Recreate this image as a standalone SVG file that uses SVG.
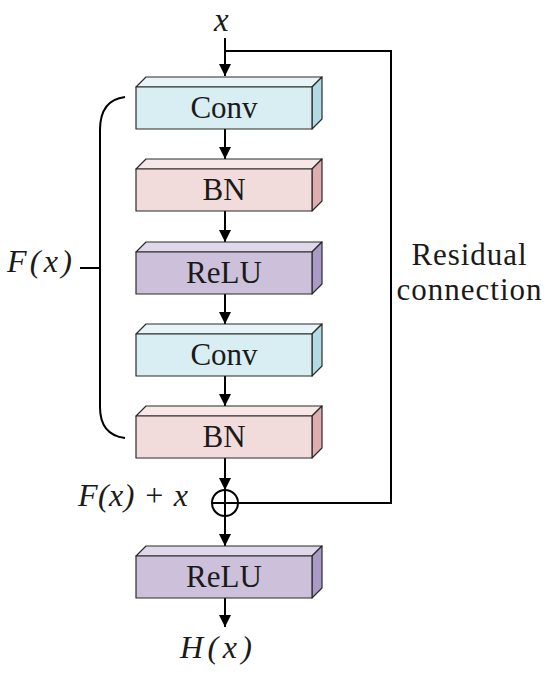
<svg xmlns="http://www.w3.org/2000/svg" width="550" height="679" viewBox="0 0 550 679">
<style>
.lbl{font-family:"Liberation Serif","Times New Roman",serif;font-size:31px;fill:#1a1a1a;text-anchor:middle}
.rl{font-family:"Liberation Serif","Times New Roman",serif;font-size:31px;fill:#1a1a1a;text-anchor:middle}
.math{font-family:"Liberation Serif","Times New Roman",serif;font-style:italic;font-size:32px;fill:#1a1a1a}
.edge{stroke:#2a2a2a;stroke-width:1.2;stroke-linejoin:round}
.cf{fill:#d9eef3}.ct{fill:#e8f5f8}.cs{fill:#b3dbe4}
.bf{fill:#f2dcdb}.bt{fill:#f7e8e7}.bs{fill:#deadb0}
.rf{fill:#ccc0da}.rt{fill:#dfd8ea}.rs{fill:#a99bc6}
.wire{fill:none;stroke:#000;stroke-width:2}
</style>
<defs>
<marker id="ah" markerUnits="userSpaceOnUse" markerWidth="12" markerHeight="13" refX="12" refY="6" orient="auto">
<path d="M0,0 L12,6 L0,12 Z" fill="#000"/>
</marker>
</defs>

<g id="connectors">
<line class="wire" x1="225" y1="38" x2="225" y2="76" marker-end="url(#ah)"/>
<polyline class="wire" points="225,51 391,51 391,503 238,503"/>
<line class="wire" x1="225" y1="129" x2="225" y2="159" marker-end="url(#ah)"/>
<line class="wire" x1="225" y1="211" x2="225" y2="242" marker-end="url(#ah)"/>
<line class="wire" x1="225" y1="294" x2="225" y2="324" marker-end="url(#ah)"/>
<line class="wire" x1="225" y1="376" x2="225" y2="406" marker-end="url(#ah)"/>
<line class="wire" x1="225" y1="458" x2="225" y2="490" marker-end="url(#ah)"/>
<line class="wire" x1="225" y1="516" x2="225" y2="546" marker-end="url(#ah)"/>
<line class="wire" x1="225" y1="598" x2="225" y2="627" marker-end="url(#ah)"/>
<path class="wire" d="M125,97 Q100,100 100,130 L100,407 Q100,435 125,438"/>
<line class="wire" x1="80" y1="268" x2="100" y2="268"/>
</g>

<g id="conv1">
<path class="ct edge" d="M136,87 L146,77 L322,77 L312,87 Z"/>
<path class="cs edge" d="M312,87 L322,77 L322,119 L312,129 Z"/>
<rect class="cf edge" x="136" y="87" width="176" height="42"/>
<text class="lbl" x="224" y="118">Conv</text>
</g>
<g id="bn1">
<path class="bt edge" d="M136,169 L146,159 L322,159 L312,169 Z"/>
<path class="bs edge" d="M312,169 L322,159 L322,201 L312,211 Z"/>
<rect class="bf edge" x="136" y="169" width="176" height="42"/>
<text class="lbl" x="224" y="200">BN</text>
</g>
<g id="relu1">
<path class="rt edge" d="M136,252 L146,242 L322,242 L312,252 Z"/>
<path class="rs edge" d="M312,252 L322,242 L322,284 L312,294 Z"/>
<rect class="rf edge" x="136" y="252" width="176" height="42"/>
<text class="lbl" x="224" y="283">ReLU</text>
</g>
<g id="conv2">
<path class="ct edge" d="M136,334 L146,324 L322,324 L312,334 Z"/>
<path class="cs edge" d="M312,334 L322,324 L322,366 L312,376 Z"/>
<rect class="cf edge" x="136" y="334" width="176" height="42"/>
<text class="lbl" x="224" y="365">Conv</text>
</g>
<g id="bn2">
<path class="bt edge" d="M136,416 L146,406 L322,406 L312,416 Z"/>
<path class="bs edge" d="M312,416 L322,406 L322,448 L312,458 Z"/>
<rect class="bf edge" x="136" y="416" width="176" height="42"/>
<text class="lbl" x="224" y="447">BN</text>
</g>
<g id="relu2">
<path class="rt edge" d="M136,556 L146,546 L322,546 L312,556 Z"/>
<path class="rs edge" d="M312,556 L322,546 L322,588 L312,598 Z"/>
<rect class="rf edge" x="136" y="556" width="176" height="42"/>
<text class="lbl" x="224" y="587">ReLU</text>
</g>

<g id="add">
<circle cx="225" cy="503" r="13" fill="#fff" stroke="#000" stroke-width="2"/>
<line x1="212" y1="503" x2="238" y2="503" stroke="#000" stroke-width="2"/>
<line x1="225" y1="490" x2="225" y2="516" stroke="#000" stroke-width="2"/>
</g>

<g id="labels">
<text class="math" x="214" y="31" style="font-size:33px">x</text>
<text class="math" x="7" y="272" textLength="65" lengthAdjust="spacing">F(x)</text>
<text class="math" x="78" y="506" textLength="110" lengthAdjust="spacing">F(x) + x</text>
<text class="math" x="180" y="658" textLength="72" lengthAdjust="spacing">H(x)</text>
<text class="rl" x="469" y="265" textLength="115" lengthAdjust="spacing">Residual</text>
<text class="rl" x="469" y="300" textLength="145" lengthAdjust="spacing">connection</text>
</g>
</svg>
